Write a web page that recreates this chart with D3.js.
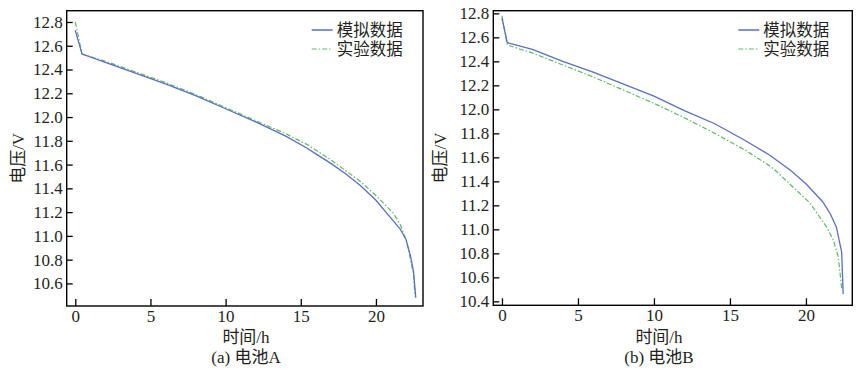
<!DOCTYPE html>
<html>
<head>
<meta charset="utf-8">
<script src="https://cdn.jsdelivr.net/npm/d3@7"></script>
<style>
  body { margin: 0; background: #fff; }
  svg { display: block; font-family: "Liberation Serif", "Times New Roman", "Noto Sans CJK SC", serif; }
</style>
</head>
<body>
<div class="inner-container"></div>
<script>
// battery A
const timeSimA = [0, 0.45, 2, 4, 6, 8, 10, 12, 14, 15.4, 16, 17, 18, 19, 20, 21, 21.6, 22, 22.3, 22.5, 22.65]
const voltSimA = [12.73, 12.53, 12.46, 12.37, 12.28, 12.18, 12.07, 11.96, 11.84, 11.74, 11.69, 11.61, 11.52, 11.42, 11.3, 11.15, 11.06, 10.97, 10.83, 10.7, 10.48]
const timeExpA = [0, 0.45, 2, 4, 6, 8, 10, 12, 14, 15.4, 17, 18.94, 20, 21.16, 21.6, 22.05, 22.3, 22.49, 22.6]
const voltExpA = [12.8, 12.53, 12.47, 12.38, 12.29, 12.19, 12.08, 11.97, 11.86, 11.77, 11.64, 11.46, 11.34, 11.19, 11.1, 10.95, 10.8, 10.685, 10.49]

// battery B
const timeSimB = [0, 0.35, 2, 4, 6, 8, 10, 12, 14, 16, 17.6, 19, 20, 21.1, 21.6, 22, 22.35, 22.45]
const voltSimB = [12.76, 12.555, 12.5, 12.4, 12.31, 12.21, 12.11, 11.99, 11.88, 11.74, 11.62, 11.49, 11.38, 11.23, 11.13, 11.02, 10.81, 10.46]
const timeExpB = [0, 0.35, 2, 4, 6, 8, 10, 12, 14, 16, 17.6, 18, 19, 20.26, 21.36, 21.8, 22.13, 22.35]
const voltExpB = [12.78, 12.536, 12.47, 12.37, 12.27, 12.16, 12.05, 11.93, 11.8, 11.66, 11.53, 11.49, 11.37, 11.22, 11.02, 10.91, 10.77, 10.51]

const xTicks = [0, 5, 10, 15, 20]
const yTicksA = [10.6, 10.8, 11.0, 11.2, 11.4, 11.6, 11.8, 12.0, 12.2, 12.4, 12.6, 12.8]
const yTicksB = [10.4, 10.6, 10.8, 11.0, 11.2, 11.4, 11.6, 11.8, 12.0, 12.2, 12.4, 12.6, 12.8]
const seriesNames = ['模拟数据', '实验数据']

const w = 862
const h = 371
const ink = '#231f20'
const blue = '#5b6fc0'
const green = '#5dba62'
const dash = '5,2,1.5,2'
const fontSize = 17

const svg = d3.create('svg')
  .attr('width', w)
  .attr('height', h)
  .attr('viewBox', [0, 0, w, h])

const zip = (xs, ys) => xs.map((x, i) => [x, ys[i]])

function panel(cfg) {
  const x = d3.scaleLinear().domain(cfg.xDomain).range([cfg.left, cfg.right])
  const y = d3.scaleLinear().domain(cfg.yDomain).range([cfg.bottom, cfg.top])
  const g = svg.append('g')

  // frame
  g.append('rect')
    .attr('x', cfg.left)
    .attr('y', cfg.top)
    .attr('width', cfg.right - cfg.left)
    .attr('height', cfg.bottom - cfg.top)
    .attr('fill', 'none')
    .attr('stroke', '#000')
    .attr('stroke-width', 1.4)

  const yAxis = d3.axisRight(y)
    .tickValues(cfg.yTicks)
    .tickSize(6)
    .tickFormat(d3.format('.1f'))
  const yg = g.append('g')
    .attr('transform', `translate(${cfg.left},0)`)
    .call(yAxis)
  yg.select('.domain').remove()
  yg.selectAll('line').attr('stroke', '#000').attr('stroke-width', 1.3)
  yg.selectAll('text')
    .attr('x', -4)
    .attr('text-anchor', 'end')
    .attr('fill', ink)
    .style('font-size', fontSize + 'px')
    .style('font-family', '"Liberation Serif", "Times New Roman", serif')

  const xAxis = d3.axisTop(x)
    .tickValues(xTicks)
    .tickSize(7)
    .tickFormat(d3.format('d'))
  const xg = g.append('g')
    .attr('transform', `translate(0,${cfg.bottom})`)
    .call(xAxis)
  xg.select('.domain').remove()
  xg.selectAll('line').attr('stroke', '#000').attr('stroke-width', 1.3)
  xg.selectAll('text')
    .attr('y', 16)
    .attr('dy', null)
    .attr('fill', ink)
    .style('font-size', fontSize + 'px')
    .style('font-family', '"Liberation Serif", "Times New Roman", serif')

  const line = d3.line()
    .x(d => x(d[0]))
    .y(d => y(d[1]))

  g.append('path')
    .datum(zip(cfg.tExp, cfg.vExp))
    .attr('d', line)
    .attr('fill', 'none')
    .attr('stroke', green)
    .attr('stroke-width', 1.2)
    .attr('stroke-dasharray', dash)

  g.append('path')
    .datum(zip(cfg.tSim, cfg.vSim))
    .attr('d', line)
    .attr('fill', 'none')
    .attr('stroke', blue)
    .attr('stroke-width', 1.3)

  // legend
  const legend = g.append('g')
  seriesNames.forEach((name, i) => {
    const ly = cfg.legendY + i * 19
    legend.append('line')
      .attr('x1', cfg.legendX)
      .attr('x2', cfg.legendX + 21)
      .attr('y1', ly)
      .attr('y2', ly)
      .attr('stroke', i ? green : blue)
      .attr('stroke-width', i ? 1.2 : 1.5)
      .attr('stroke-dasharray', i ? dash : null)
    legend.append('text')
      .attr('x', cfg.legendX + 25)
      .attr('y', ly + 6)
      .attr('fill', ink)
      .style('font-family', '"Noto Sans CJK SC", sans-serif')
      .style('font-size', '16.5px')
      .text(name)
  })

  // axis titles
  g.append('text')
    .attr('transform', `translate(${cfg.yLabelX},${(cfg.top + cfg.bottom) / 2}) rotate(-90)`)
    .attr('text-anchor', 'middle')
    .attr('dy', '0.35em')
    .attr('fill', ink)
    .style('font-size', fontSize + 'px')
    .text('电压/V')

  g.append('text')
    .attr('x', cfg.labelX)
    .attr('y', 343)
    .attr('text-anchor', 'middle')
    .attr('fill', ink)
    .style('font-size', fontSize + 'px')
    .text('时间/h')

  g.append('text')
    .attr('x', cfg.labelX)
    .attr('y', 363)
    .attr('text-anchor', 'middle')
    .attr('fill', ink)
    .style('font-size', fontSize + 'px')
    .text(cfg.caption)
}

panel({
  left: 66.7, right: 423, top: 10.7, bottom: 306,
  xDomain: [-0.57, 23.13], yDomain: [10.41, 12.895],
  yTicks: yTicksA,
  tSim: timeSimA, vSim: voltSimA, tExp: timeExpA, vExp: voltExpA,
  legendX: 311.7, legendY: 30,
  yLabelX: 18, labelX: 246,
  caption: '(a) 电池A'
})

panel({
  left: 493.3, right: 852.3, top: 10.7, bottom: 305.3,
  xDomain: [-0.57, 23.05], yDomain: [10.367, 12.822],
  yTicks: yTicksB,
  tSim: timeSimB, vSim: voltSimB, tExp: timeExpB, vExp: voltExpB,
  legendX: 738.3, legendY: 30,
  yLabelX: 440, labelX: 659,
  caption: '(b) 电池B'
})

d3.select('.inner-container').append(() => svg.node())
</script>
</body>
</html>
